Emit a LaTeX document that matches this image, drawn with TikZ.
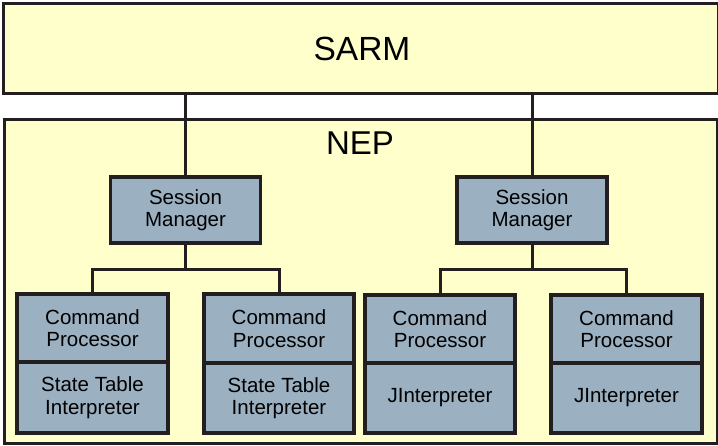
\documentclass[tikz,border=0pt]{standalone}
\usepackage{fontspec}
\setmainfont{Liberation Sans}
\definecolor{lineC}{HTML}{231F20}
\definecolor{yel}{HTML}{FFFFCC}
\definecolor{boxC}{HTML}{9BB0C1}
\begin{document}
\begin{tikzpicture}[x=1pt,y=-1pt,
  outerbox/.style={draw=lineC,fill=yel,line width=3pt,inner sep=0pt,anchor=north west},
  comp/.style={draw=lineC,fill=boxC,line width=3.3pt,inner sep=0pt,align=center,
    font=\fontsize{20.5}{22.5}\selectfont},
  conn/.style={draw=lineC,line width=3pt},
  line join=miter]
\useasboundingbox (0,0) rectangle (718,445);
% outer boxes
\node[outerbox,minimum width=715pt,minimum height=90pt] (sarm) at (1.5,1.5) {};
\node[font=\fontsize{33.5}{38}\selectfont] (sarmt) at (362,49) {SARM};
\node[outerbox,minimum width=713pt,minimum height=324pt] (nep) at (2.5,117.5) {};
\node[font=\fontsize{33}{38}\selectfont] (nept) at (360,143) {NEP};
% session managers
\node[comp,minimum width=150pt,minimum height=66pt] (sm1) at (185.5,210) {Session\\Manager};
\node[comp,minimum width=150pt,minimum height=66pt] (sm2) at (532,210) {Session\\Manager};
% command processors
\node[comp,minimum width=151pt,minimum height=68pt] (cp1) at (92.5,328) {Command\\Processor};
\node[comp,minimum width=151pt,minimum height=71pt] (st1) at (92.5,397.5) {State Table\\Interpreter};
\node[comp,minimum width=150pt,minimum height=69pt] (cp2) at (279,328.5) {Command\\Processor};
\node[comp,minimum width=150pt,minimum height=70pt] (st2) at (279,398) {State Table\\Interpreter};
\node[comp,minimum width=150pt,minimum height=68pt] (cp3) at (440,329) {Command\\Processor};
\node[comp,minimum width=150pt,minimum height=70pt] (ji1) at (440,398) {JInterpreter};
\node[comp,minimum width=151pt,minimum height=68pt] (cp4) at (626.5,329) {Command\\Processor};
\node[comp,minimum width=151pt,minimum height=70pt] (ji2) at (626.5,398) {JInterpreter};
% connectors
\draw[conn] (sm1.north |- sarm.south) -- (sm1.north);
\draw[conn] (sm2.north |- sarm.south) -- (sm2.north);
\draw[conn] (sm1.south) -- ++(0,25) coordinate (j1);
\draw[conn] (cp1.north) |- (j1) -| (cp2.north);
\draw[conn] (sm2.south) -- ++(0,25) coordinate (j2);
\draw[conn] (cp3.north) |- (j2) -| (cp4.north);
\end{tikzpicture}
\end{document}
